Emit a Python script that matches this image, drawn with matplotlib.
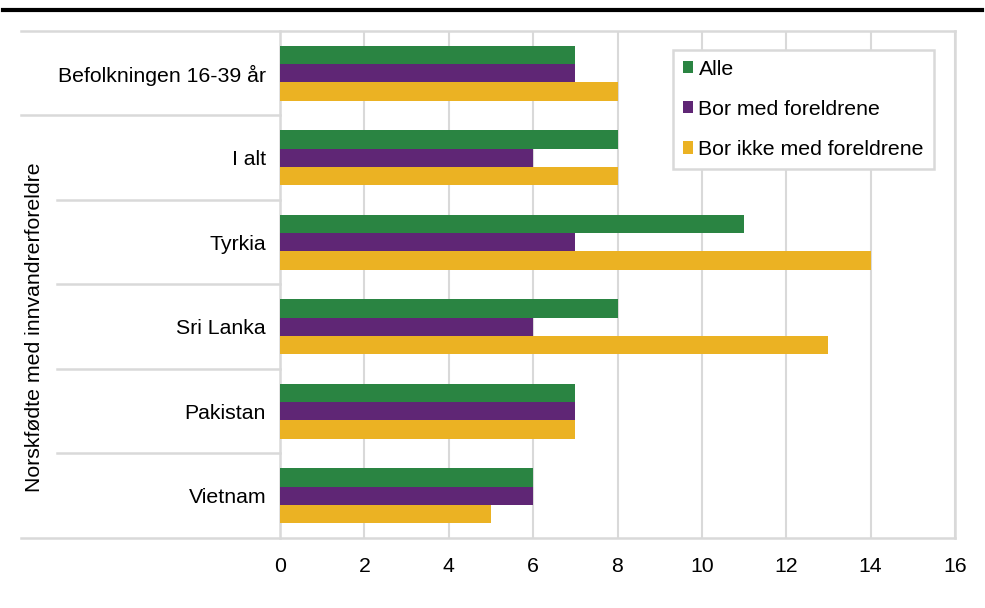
import numpy as np
import matplotlib.pyplot as plt
from matplotlib.lines import Line2D

plt.rcParams['font.family'] = ['Liberation Sans', 'DejaVu Sans']
plt.rcParams['font.size'] = 15.3

# data
categories = ['Befolkningen 16-39 år', 'I alt', 'Tyrkia', 'Sri Lanka', 'Pakistan', 'Vietnam']
alle = [7, 8, 11, 8, 7, 6]
med_foreldre = [7, 6, 7, 6, 7, 6]
ikke_med_foreldre = [8, 8, 14, 13, 7, 5]
series_names = ['Alle', 'Bor med foreldrene', 'Bor ikke med foreldrene']
group_label = 'Norskfødte med innvandrerforeldre'
xticks = np.arange(0, 17, 2)

colors = ['#2a8442', '#5f2675', '#ebb223']
grid_col = '#d9d9d9'

W, H = 985, 608
fig = plt.figure(figsize=(W / 100, H / 100), dpi=100)
ax = fig.add_axes([280 / W, 1 - 538 / H, 675 / W, 507 / H])

y = np.arange(len(categories))
bh = 0.215
for i, (vals, name) in enumerate(zip([alle, med_foreldre, ikke_med_foreldre], series_names)):
    ax.barh(y + (i - 1) * bh, vals, height=bh, color=colors[i], label=name, zorder=3)

ax.set_xlim(0, 16)
ax.set_ylim(len(categories) - 0.5, -0.5)
ax.set_xticks(xticks)
ax.set_yticks(y)
ax.set_yticklabels(categories)
ax.tick_params(axis='both', length=0)
ax.tick_params(axis='y', pad=10)
ax.tick_params(axis='x', pad=14)
ax.grid(axis='x', color=grid_col, lw=1.5, zorder=0)

for s in ['top', 'bottom']:
    ax.spines[s].set_visible(False)
for s in ['left', 'right']:
    ax.spines[s].set_color(grid_col)
    ax.spines[s].set_linewidth(1.8)

# frame lines and category separators reaching into the label area
trans = ax.get_yaxis_transform()
x_outer = (21 - 280) / 675
x_inner = (57 - 280) / 675
for yy in [-0.5, len(categories) - 0.5]:
    ax.plot([x_outer, 1], [yy, yy], color=grid_col, lw=1.8,
            transform=trans, clip_on=False, zorder=1)
ax.plot([x_outer, 0], [0.5, 0.5], color=grid_col, lw=1.8,
        transform=trans, clip_on=False)
for yy in np.arange(1.5, len(categories) - 1, 1.0):
    ax.plot([x_inner, 0], [yy, yy], color=grid_col, lw=1.8,
            transform=trans, clip_on=False)

fig.text(35 / W, 1 - 327 / H, group_label, rotation=90, ha='center', va='center')

# thick rule across the top
fig.add_artist(Line2D([3 / W, 982 / W], [1 - 10 / H, 1 - 10 / H], color='black', lw=3))

leg = ax.legend(loc='upper left', bbox_to_anchor=(673 / W, 1 - 50 / H),
                bbox_transform=fig.transFigure, frameon=True, fancybox=False,
                handlelength=0.5, handleheight=0.5, handletextpad=0.25,
                labelspacing=1.0, borderpad=0.45, borderaxespad=0)
leg.get_frame().set_edgecolor(grid_col)
leg.get_frame().set_linewidth(1.8)
leg.get_frame().set_alpha(1)

fig.savefig('out.png', dpi=100)
